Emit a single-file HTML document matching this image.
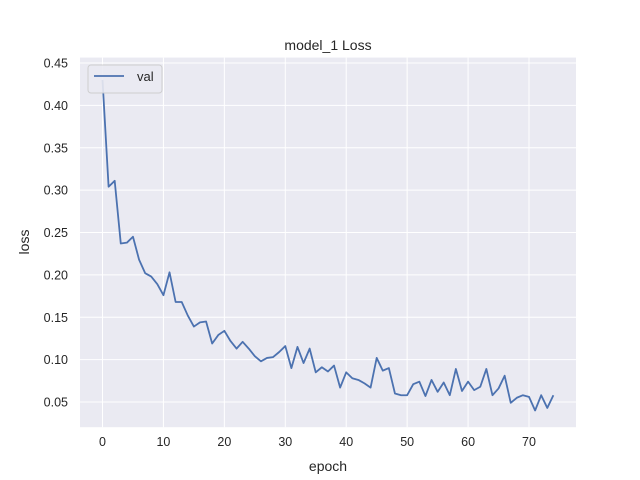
<!DOCTYPE html>
<html><head><meta charset="utf-8"><style>
body{margin:0;background:#fff;}
svg{display:block;font-family:"Liberation Sans","DejaVu Sans",sans-serif;}
</style></head><body>
<svg id="chart" width="640" height="480">
<rect x="0" y="0" width="640" height="480" fill="#fff"/>
<rect x="80" y="57.6" width="496" height="369.6" fill="#eaeaf2"/>
<g id="grid"></g>
<g id="ticks"></g>
<path id="line" fill="none" stroke="#4c72b0" stroke-width="1.8" stroke-linejoin="round"/>
<text x="328" y="50" text-anchor="middle" font-size="14" fill="#262626">model_1 Loss</text>
<text x="328" y="471" text-anchor="middle" font-size="14" fill="#262626">epoch</text>
<text transform="translate(29,242) rotate(-90)" text-anchor="middle" font-size="14" fill="#262626">loss</text>
<g>
<rect x="88" y="65" width="74" height="28" rx="3" fill="#eaeaf2" stroke="#cccccc" opacity="0.9"/>
<line x1="94" y1="76" x2="124" y2="76" stroke="#4c72b0" stroke-width="1.8"/>
<text x="137" y="81" font-size="13" fill="#262626">val</text>
</g>
</svg>
<script>
const epochs=[...Array(75).keys()];
const valLoss=[0.43,0.304,0.311,0.237,0.238,0.245,0.218,0.202,0.198,0.189,0.176,0.203,0.168,0.168,0.152,0.139,0.144,0.145,0.119,0.129,0.134,0.122,0.113,0.121,0.113,0.104,0.098,0.102,0.103,0.109,0.116,0.090,0.115,0.096,0.113,0.085,0.091,0.086,0.093,0.067,0.085,0.078,0.076,0.072,0.067,0.102,0.087,0.090,0.060,0.058,0.058,0.071,0.074,0.057,0.076,0.062,0.073,0.058,0.089,0.063,0.074,0.064,0.068,0.089,0.058,0.066,0.081,0.049,0.055,0.058,0.056,0.040,0.058,0.043,0.058];
const xTicks=[0,10,20,30,40,50,60,70];
const yTicks=[0.05,0.10,0.15,0.20,0.25,0.30,0.35,0.40,0.45];
const ns="http://www.w3.org/2000/svg";
const X=v=>102.5+(v)*6.093;
const Y=v=>402-(v-0.05)*847.5;
const grid=document.getElementById('grid'),ticks=document.getElementById('ticks');
function mk(tag,attrs,parent){const e=document.createElementNS(ns,tag);for(const k in attrs)e.setAttribute(k,attrs[k]);parent.appendChild(e);return e;}
xTicks.forEach(t=>{
  const l=mk('line',{x1:X(t),x2:X(t),y1:57.6,y2:427.2,stroke:'#fff','stroke-width':1},grid);
  
  
  const tx=mk('text',{x:X(t),y:446,'text-anchor':'middle','font-size':12.5,fill:'#262626'},ticks);
  tx.textContent=t;
  
  
});
yTicks.forEach(t=>{
  const l=mk('line',{x1:80,x2:576,y1:Y(t),y2:Y(t),stroke:'#fff','stroke-width':1},grid);
  
  
  const tx=mk('text',{x:68,y:Y(t)+4.5,'text-anchor':'end','font-size':12.5,fill:'#262626'},ticks);
  tx.textContent=t.toFixed(2);
  
  
});
document.getElementById('line').setAttribute('d',valLoss.map((v,i)=>(i?'L':'M')+X(epochs[i]).toFixed(2)+','+Y(v).toFixed(2)).join(''));
</script>
</body></html>
